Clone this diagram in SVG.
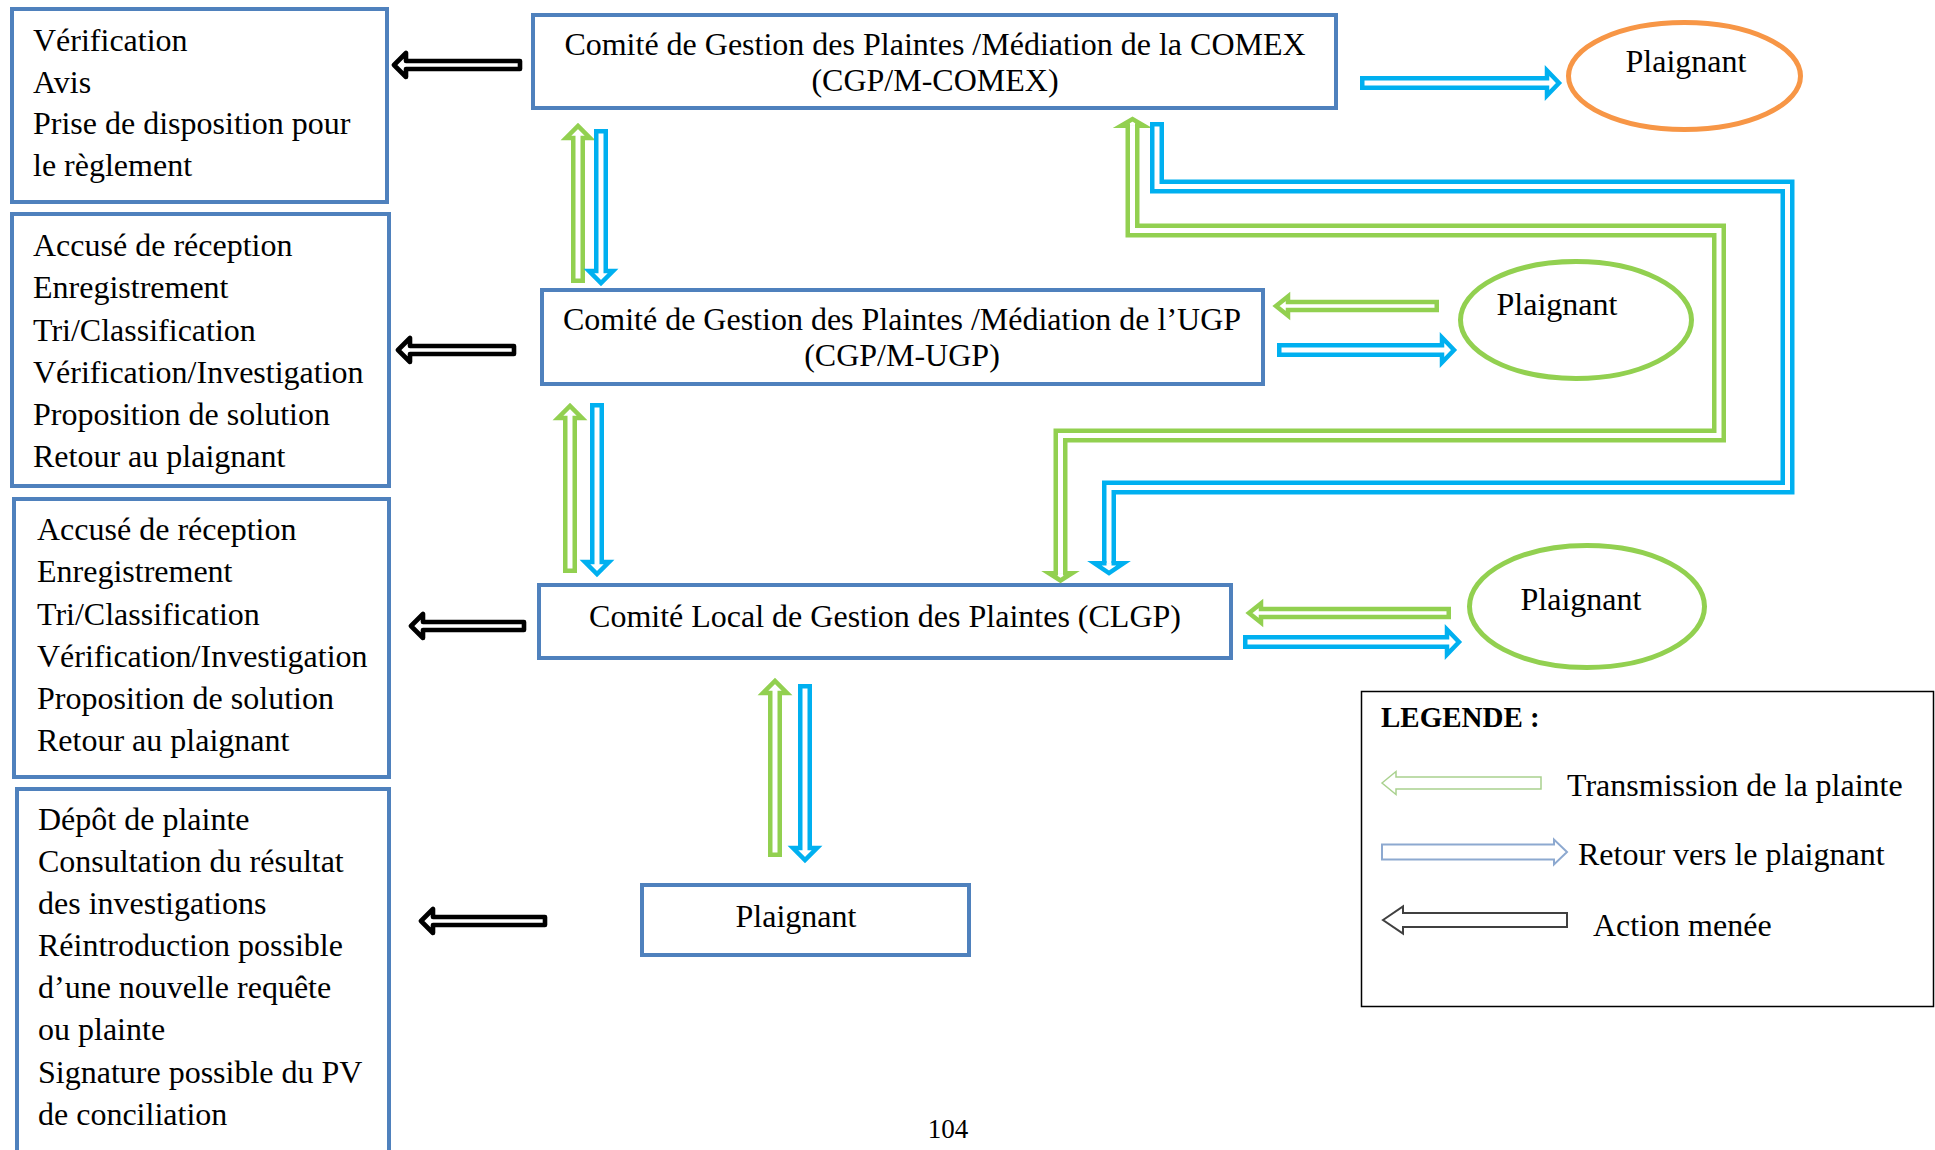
<svg xmlns="http://www.w3.org/2000/svg" width="1935" height="1150" viewBox="0 0 1935 1150">
<style>
  text { font-family: "Liberation Serif", "Times New Roman", serif; font-size: 32px; fill: #000; }
  .mid { text-anchor: middle; }
  .box { fill: #fff; stroke: #4F81BD; stroke-width: 4; }
  .blk { fill: #fff; stroke: #000; stroke-width: 4.6; stroke-linejoin: round; }
  .blu { fill: #fff; stroke: #00B0F0; stroke-width: 4.5; stroke-linejoin: miter; }
  .grn { fill: #fff; stroke: #92D050; stroke-width: 4.5; stroke-linejoin: miter; }
  .bluOut { fill: none; stroke: #00B0F0; stroke-width: 14; stroke-linejoin: miter; }
  .grnOut { fill: none; stroke: #92D050; stroke-width: 14; stroke-linejoin: miter; }
  .inner { fill: none; stroke: #fff; stroke-width: 5; stroke-linejoin: miter; }
</style>
<rect width="1935" height="1150" fill="#fff"/>

<g id="box-comex-actions">
  <rect class="box" x="12" y="9" width="375" height="193"/>
  <text x="33" y="51">Vérification</text>
  <text x="33" y="92.5">Avis</text>
  <text x="33" y="134">Prise de disposition pour</text>
  <text x="33" y="176">le règlement</text>
</g>
<g id="box-ugp-actions">
  <rect class="box" x="12" y="214" width="377" height="272"/>
  <text x="33" y="256">Accusé de réception</text>
  <text x="33" y="298">Enregistrement</text>
  <text x="33" y="341">Tri/Classification</text>
  <text x="33" y="383">Vérification/Investigation</text>
  <text x="33" y="425">Proposition de solution</text>
  <text x="33" y="467">Retour au plaignant</text>
</g>
<g id="box-clgp-actions">
  <rect class="box" x="14" y="499" width="375" height="278"/>
  <text x="37" y="540">Accusé de réception</text>
  <text x="37" y="582">Enregistrement</text>
  <text x="37" y="625">Tri/Classification</text>
  <text x="37" y="667">Vérification/Investigation</text>
  <text x="37" y="709">Proposition de solution</text>
  <text x="37" y="751">Retour au plaignant</text>
</g>
<g id="box-plaignant-actions">
  <rect class="box" x="17" y="789" width="372" height="420"/>
  <text x="38" y="830">Dépôt de plainte</text>
  <text x="38" y="872">Consultation du résultat</text>
  <text x="38" y="914">des investigations</text>
  <text x="38" y="956">Réintroduction possible</text>
  <text x="38" y="998">d’une nouvelle requête</text>
  <text x="38" y="1040">ou plainte</text>
  <text x="38" y="1083">Signature possible du PV</text>
  <text x="38" y="1125">de conciliation</text>
</g>

<g id="node-comex">
  <rect class="box" x="533" y="15" width="803" height="93"/>
  <text class="mid" x="935" y="55">Comité de Gestion des Plaintes /Médiation de la COMEX</text>
  <text class="mid" x="935" y="91">(CGP/M-COMEX)</text>
</g>
<g id="node-ugp">
  <rect class="box" x="542" y="290" width="721" height="94"/>
  <text class="mid" x="902" y="330">Comité de Gestion des Plaintes /Médiation de l’UGP</text>
  <text class="mid" x="902" y="366">(CGP/M-UGP)</text>
</g>
<g id="node-clgp">
  <rect class="box" x="539" y="585" width="692" height="73"/>
  <text class="mid" x="885" y="627">Comité Local de Gestion des Plaintes (CLGP)</text>
</g>
<g id="node-plaignant-bottom">
  <rect class="box" x="642" y="885" width="327" height="70"/>
  <text class="mid" x="796" y="927">Plaignant</text>
</g>
<g id="node-plaignant-comex">
  <ellipse cx="1684.5" cy="76" rx="116" ry="53.5" fill="#fff" stroke="#F79646" stroke-width="5"/>
  <text class="mid" x="1686" y="72">Plaignant</text>
</g>
<g id="node-plaignant-ugp">
  <ellipse cx="1576" cy="320" rx="115.5" ry="58.5" fill="#fff" stroke="#92D050" stroke-width="5"/>
  <text class="mid" x="1557" y="315">Plaignant</text>
</g>
<g id="node-plaignant-clgp">
  <ellipse cx="1587" cy="606.5" rx="117.5" ry="61" fill="#fff" stroke="#92D050" stroke-width="5"/>
  <text class="mid" x="1581" y="610">Plaignant</text>
</g>

<g id="connectors">
  <!-- black action arrows -->
  <polygon class="blk" points="394,65 406,53 406,61 520,61 520,69 406,69 406,77"/>
  <polygon class="blk" points="398,350 410,338 410,346 514,346 514,354 410,354 410,362"/>
  <polygon class="blk" points="411,626 423,614 423,622 524,622 524,630 423,630 423,638"/>
  <polygon class="blk" points="421,921 433,909 433,917 545,917 545,925 433,925 433,933"/>

  <!-- vertical pairs -->
  <polygon class="grn" points="573.25,280.75 573.25,138 566,138 578,126 590,138 582.75,138 582.75,280.75"/>
  <polygon class="blu" points="596.25,131.25 605.75,131.25 605.75,271 613,271 601,283 589,271 596.25,271"/>
  <polygon class="grn" points="565.25,570.75 565.25,418 558,418 570,406 582,418 574.75,418 574.75,570.75"/>
  <polygon class="blu" points="592.25,405.25 601.75,405.25 601.75,562 609,562 597,574 585,562 592.25,562"/>
  <polygon class="grn" points="770.25,854.75 770.25,693 763,693 775,681 787,693 779.75,693 779.75,854.75"/>
  <polygon class="blu" points="800.25,686.25 809.75,686.25 809.75,848 817,848 805,860 793,848 800.25,848"/>

  <!-- horizontal arrows to/from plaignant ellipses -->
  <polygon class="blu" points="1362.25,78.25 1547,78.25 1547,70.5 1559,83 1547,95.5 1547,87.75 1362.25,87.75"/>
  <polygon class="grn" points="1276,306 1288,296.5 1288,302 1436.75,302 1436.75,310 1288,310 1288,315.5"/>
  <polygon class="blu" points="1279.25,345.25 1442,345.25 1442,337.5 1454,350 1442,362.5 1442,354.75 1279.25,354.75"/>
  <polygon class="grn" points="1249,613 1261,603.5 1261,609 1448.75,609 1448.75,617 1261,617 1261,622.5"/>
  <polygon class="blu" points="1245.25,637.25 1447,637.25 1447,629.5 1459,642 1447,654.5 1447,646.75 1245.25,646.75"/>

  <!-- green elbow: CLGP <-> COMEX -->
  <path class="grnOut" d="M1060.5,573.25 V435.5 H1719 V230.5 H1132.5 V125.75"/>
  <path class="inner" d="M1060.5,573.25 V435.5 H1719 V230.5 H1132.5 V125.75"/>
  <path class="grn" d="M1058,573.25 H1049 L1060.5,580.5 L1072,573.25 H1063"/>
  <path class="grn" d="M1130,125.75 H1121 L1132.5,119 L1144,125.75 H1135"/>

  <!-- blue elbow: COMEX -> CLGP -->
  <path class="bluOut" d="M1157,122 V186.5 H1787.5 V487.5 H1109 V563.25"/>
  <path class="inner" d="M1157,126.5 V186.5 H1787.5 V487.5 H1109 V563.25"/>
  <path class="blu" d="M1106.5,563.25 H1094.5 L1109,573 L1123.5,563.25 H1111.5"/>
</g>

<g id="legend">
  <rect x="1361.5" y="691.5" width="572" height="315" fill="#fff" stroke="#000" stroke-width="1.5"/>
  <text x="1381" y="727" style="font-weight:bold;font-size:29px">LEGENDE :</text>
  <polygon points="1382,783 1396,771.5 1396,777 1541,777 1541,789 1396,789 1396,794.5" fill="#fff" stroke="#A9D18E" stroke-width="1.5"/>
  <text x="1567" y="796">Transmission de la plainte</text>
  <polygon points="1382,844.5 1554,844.5 1554,839.5 1567,852 1554,864.5 1554,859.5 1382,859.5" fill="#fff" stroke="#8DA9D0" stroke-width="2"/>
  <text x="1578" y="865">Retour vers le plaignant</text>
  <polygon points="1383,920 1403,906.5 1403,913 1567,913 1567,927 1403,927 1403,933.5" fill="#fff" stroke="#404040" stroke-width="2"/>
  <text x="1593" y="936">Action menée</text>
</g>

<text class="mid" x="948" y="1138" style="font-size:27px">104</text>
</svg>
